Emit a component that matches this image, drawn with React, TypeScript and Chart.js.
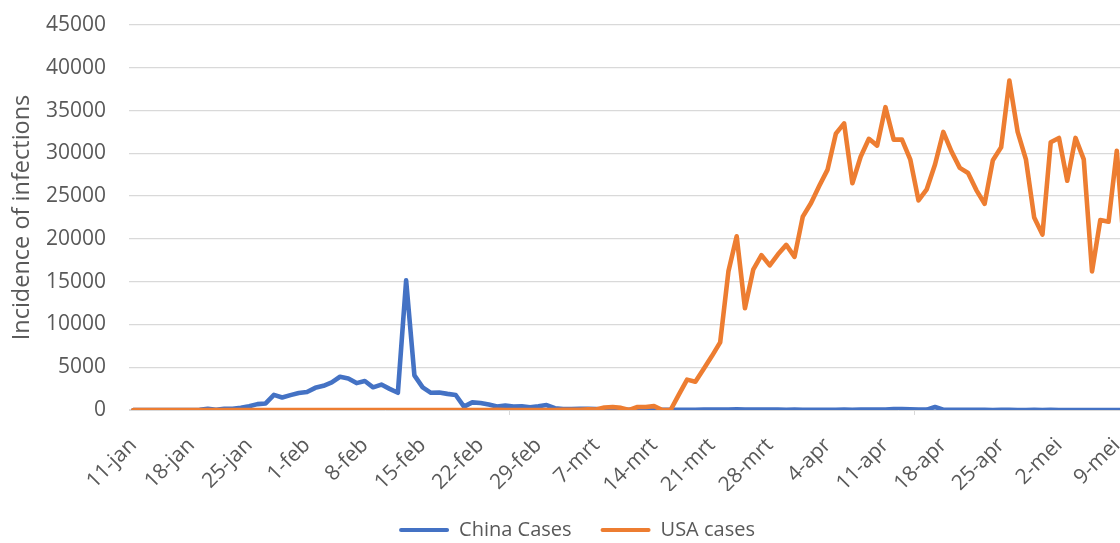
import React, { useEffect, useRef } from "react";
import { Chart, registerables } from "chart.js";

Chart.register(...registerables);

// ---- categories (daily dates, Dutch month abbreviations) ----
const MONTHS = ["jan", "feb", "mrt", "apr", "mei"];
const MONTH_DAYS = [31, 29, 31, 30, 31];
const START_DAY = 11;
const CATEGORY_COUNT = 124; // 11-jan .. 13-mei (chart continues past the cropped right edge)
const TICK_EVERY = 7;

function buildDates(): string[] {
  const out: string[] = [];
  let m = 0;
  let d = START_DAY;
  for (let i = 0; i < CATEGORY_COUNT; i++) {
    out.push(`${d}-${MONTHS[m]}`);
    d++;
    if (d > MONTH_DAYS[m]) {
      d = 1;
      m++;
    }
  }
  return out;
}
const dates = buildDates();

// ---- series ----
const chinaCases = [
  0, 0, 0, 0, 0, 0, 0, 4, 17, 136,
  19, 151, 140, 259, 444, 688, 769, 1771, 1459, 1737,
  1981, 2099, 2589, 2825, 3235, 3884, 3694, 3143, 3385, 2652,
  2973, 2467, 2015, 15152, 4050, 2641, 2008, 2048, 1886, 1749,
  394, 889, 823, 648, 409, 508, 406, 433, 327, 427,
  573, 202, 125, 119, 139, 143, 99, 44, 40, 19,
  24, 15, 8, 11, 20, 16, 21, 13, 34, 39,
  41, 46, 39, 78, 47, 67, 55, 54, 45, 31,
  48, 36, 35, 31, 19, 30, 39, 32, 62, 63,
  42, 46, 99, 108, 89, 46, 46, 352, 26, 16,
  12, 11, 30, 10, 6, 11, 12, 3, 6, 22,
  4, 12, 1, 2, 1, 3, 1, 2, 4, 1,
  1,
];

const usaCases = [
  0, 0, 0, 0, 0, 0, 0, 0, 0, 0,
  1, 0, 0, 1, 0, 1, 2, 0, 0, 0,
  0, 1, 0, 3, 0, 0, 0, 0, 0, 1,
  0, 0, 0, 1, 0, 0, 0, 0, 0, 0,
  0, 0, 0, 0, 18, 0, 6, 1, 3, 5,
  8, 6, 23, 20, 31, 68, 50, 300, 350, 250,
  0, 350, 350, 450, 0, 0, 1800, 3550, 3300, 4800,
  6300, 7900, 16200, 20300, 11900, 16400, 18100, 16900, 18200, 19300,
  17900, 22600, 24200, 26200, 28100, 32300, 33500, 26500, 29600, 31700,
  30900, 35400, 31600, 31600, 29300, 24500, 25800, 28700, 32500, 30200,
  28300, 27700, 25700, 24100, 29200, 30700, 38500, 32500, 29300, 22500,
  20500, 31300, 31800, 26800, 31800, 29300, 16200, 22200, 22000, 30300,
  17500,
];

// ---- axis ----
const Y_MIN = 0;
const Y_MAX = 45000;
const Y_STEP = 5000;

const TEXT = "#595959";
const GRID = "#d9d9d9";
const BLUE = "#4472C4";
const ORANGE = "#ED7D31";

export default function App() {
  const canvasRef = useRef<HTMLCanvasElement | null>(null);

  useEffect(() => {
    const canvas = canvasRef.current;
    if (!canvas) return;
    Chart.defaults.font.family = "'Open Sans', sans-serif";
    Chart.defaults.color = TEXT;

    const chart = new Chart(canvas, {
      type: "line",
      data: {
        labels: dates,
        datasets: [
          {
            label: "China Cases",
            data: chinaCases,
            borderColor: BLUE,
            backgroundColor: BLUE,
            borderWidth: 4.6,
            pointRadius: 0,
            tension: 0,
            borderJoinStyle: "round",
            borderCapStyle: "round",
            order: 1,
          },
          {
            label: "USA cases",
            data: usaCases,
            borderColor: ORANGE,
            backgroundColor: ORANGE,
            borderWidth: 4.6,
            pointRadius: 0,
            tension: 0,
            borderJoinStyle: "round",
            borderCapStyle: "round",
            order: 0,
          },
        ],
      },
      options: {
        responsive: false,
        maintainAspectRatio: false,
        animation: false,
        devicePixelRatio: 1,
        layout: { padding: { top: 25, right: 0, left: 0, bottom: 0 } },
        plugins: {
          tooltip: { enabled: false },
          legend: {
            position: "bottom",
            labels: {
              boxWidth: 50,
              boxHeight: 4,
              padding: 29,
              color: TEXT,
              font: { size: 20 },
              sort: (a: any, b: any) => a.datasetIndex - b.datasetIndex,
              generateLabels: (c: any) =>
                (Chart.defaults.plugins.legend.labels.generateLabels as any)(c).map((l: any) => ({
                  ...l,
                  fillStyle: l.strokeStyle,
                  lineWidth: 0,
                  borderRadius: 2,
                })),
            },
          },
        },
        scales: {
          x: {
            type: "category",
            offset: true,
            grid: {
              offset: true,
              drawOnChartArea: false,
              drawTicks: true,
              tickLength: 5,
              lineWidth: 1,
              color: (ctx: any) => (ctx.index % TICK_EVERY === 0 ? GRID : "rgba(0,0,0,0)"),
              tickColor: (ctx: any) => (ctx.index % TICK_EVERY === 0 ? GRID : "rgba(0,0,0,0)"),
            },
            border: { display: true, color: GRID, width: 1 },
            ticks: {
              autoSkip: false,
              minRotation: 45,
              maxRotation: 45,
              padding: 18,
              color: TEXT,
              font: { size: 21 },
              callback: (_v: any, index: number) => (index % TICK_EVERY === 0 ? dates[index] : null),
            },
            afterFit: (s: any) => {
              s.height = 81;
            },
          },
          y: {
            min: Y_MIN,
            max: Y_MAX,
            ticks: {
              stepSize: Y_STEP,
              padding: 10.3,
              color: TEXT,
              font: { size: 21 },
              callback: (v: any) => String(v),
            },
            grid: {
              color: GRID,
              lineWidth: 1.3,
              drawTicks: true,
              tickLength: 13,
              tickColor: "rgba(0,0,0,0)",
            },
            border: { display: false },
            title: {
              display: true,
              text: "Incidence of infections",
              color: TEXT,
              font: { size: 23.5 },
              padding: { top: 8.4, bottom: 0 },
            },
            afterFit: (s: any) => {
              s.width = 129.3;
            },
          },
        },
      },
    });
    return () => chart.destroy();
  }, []);

  return (
    <div
      style={{
        position: "fixed",
        left: 0,
        top: 0,
        width: 1120,
        height: 543,
        overflow: "hidden",
        background: "#ffffff",
      }}
    >
      <canvas ref={canvasRef} width={1154} height={550} style={{ display: "block" }} />
    </div>
  );
}
